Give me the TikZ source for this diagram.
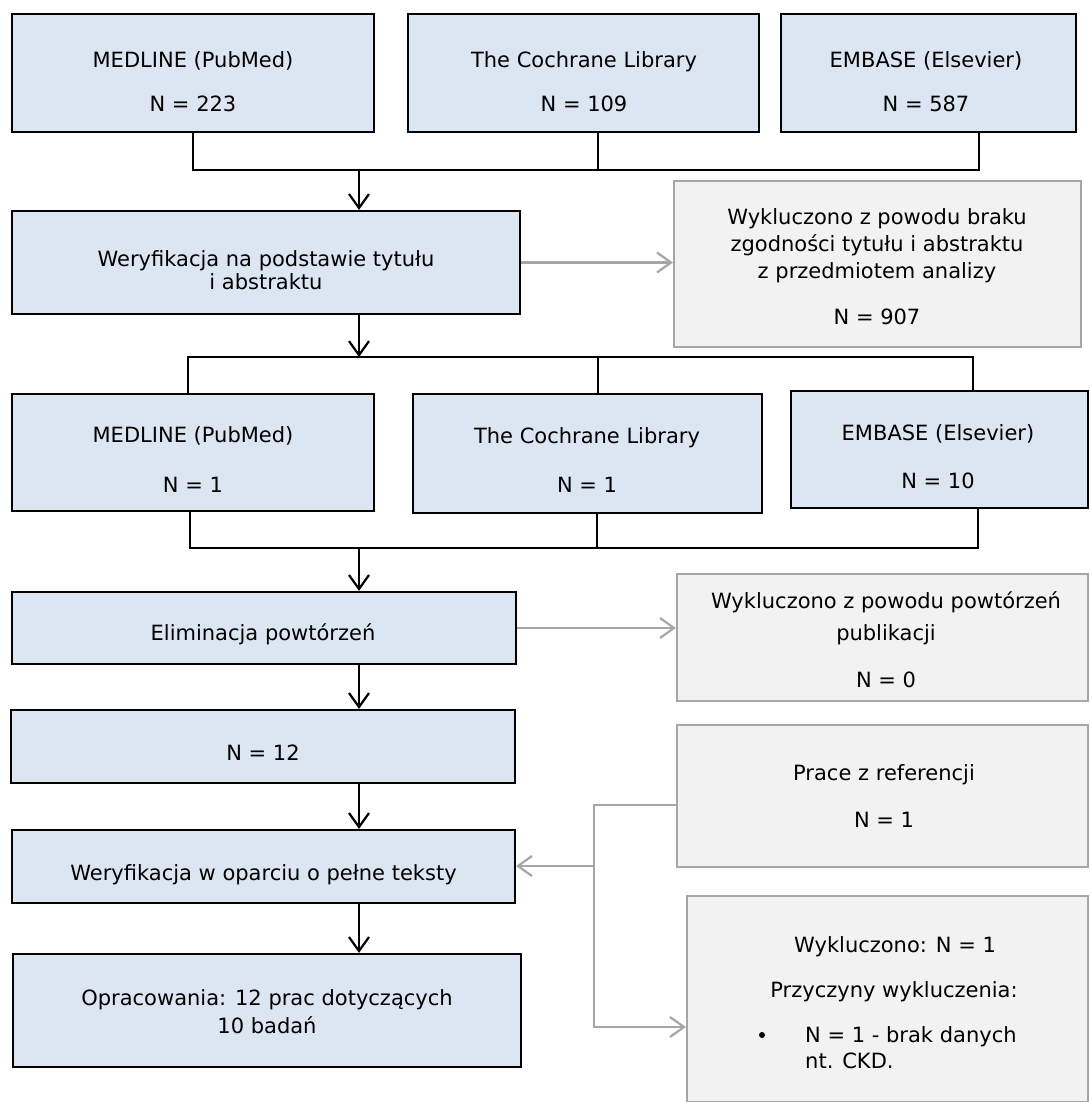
\documentclass[tikz,border=0pt]{standalone}
\usepackage{fontspec}
\setmainfont{DejaVu Sans}
\usetikzlibrary{arrows.meta}
\definecolor{bluefill}{HTML}{DCE6F2}
\definecolor{grayfill}{HTML}{F2F2F2}
\definecolor{grayline}{HTML}{A6A6A6}
\begin{document}
\begin{tikzpicture}[x=1pt,y=-1pt,
  bbox/.style={draw=black, line width=2.2pt, fill=bluefill, inner sep=0pt},
  gbox/.style={draw=grayline, line width=2.2pt, fill=grayfill, inner sep=0pt},
  txt/.style={font=\fontsize{21}{25}\selectfont, inner sep=0pt, anchor=base},
  txtw/.style={txt, anchor=base west},
  conn/.style={line width=2.2pt, draw=black},
  arr/.style={conn, -{Straight Barb[length=14pt,width=20pt,line width=2.2pt]}},
  gconn/.style={line width=2.2pt, draw=grayline},
  garr/.style={gconn, -{Straight Barb[length=14pt,width=20pt,line width=2.2pt]}}]
\useasboundingbox (0,0) rectangle (1089,1102);
\fill[white] (0,0) rectangle (1089,1102);

% row 1
\node[bbox, minimum width=362pt, minimum height=118pt] (a1) at (193,73) {};
\node[bbox, minimum width=351pt, minimum height=118pt] (a2) at (583.5,73) {};
\node[bbox, minimum width=295pt, minimum height=118pt] (a3) at (928.5,73) {};
\node[txt] (a1t1) at (193,68) {MEDLINE (PubMed)};
\node[txt] (a1t2) at (193,112) {N = 223};
\node[txt] (a2t1) at (584,68) {The Cochrane Library};
\node[txt] (a2t2) at (584,112) {N = 109};
\node[txt] (a3t1) at (926,68) {EMBASE (Elsevier)};
\node[txt] (a3t2) at (926,112) {N = 587};

% B and C
\node[bbox, minimum width=508pt, minimum height=103pt] (b) at (266,262.5) {};
\node[txt] (bt1) at (266,266) {Weryfikacja na podstawie tytułu};
\node[txt] (bt2) at (266,289) {i abstraktu};
\node[gbox, minimum width=407pt, minimum height=166pt] (c) at (877.5,264) {};
\node[txt] (ct1) at (877,224) {Wykluczono z powodu braku};
\node[txt] (ct2) at (877,251) {zgodności tytułu i abstraktu};
\node[txt] (ct3) at (877,278) {z przedmiotem analizy};
\node[txt] (ct4) at (877,324) {N = 907};

% row 3
\node[bbox, minimum width=362pt, minimum height=117pt] (m3) at (193,452.5) {};
\node[bbox, minimum width=349pt, minimum height=119pt] (c3) at (587.5,453.5) {};
\node[bbox, minimum width=297pt, minimum height=117pt] (e3) at (939.5,449.5) {};
\node[txt] (m3t1) at (193,442) {MEDLINE (PubMed)};
\node[txt] (m3t2) at (193,492) {N = 1};
\node[txt] (c3t1) at (587,443) {The Cochrane Library};
\node[txt] (c3t2) at (587,492) {N = 1};
\node[txt] (e3t1) at (938,440) {EMBASE (Elsevier)};
\node[txt] (e3t2) at (938,488) {N = 10};

% D, E
\node[bbox, minimum width=504pt, minimum height=72pt] (d) at (264,628) {};
\node[txt] (dt) at (263,640) {Eliminacja powtórzeń};
\node[gbox, minimum width=411pt, minimum height=127pt] (e) at (882.5,637.5) {};
\node[txt] (et1) at (886,608) {Wykluczono z powodu powtórzeń};
\node[txt] (et2) at (886,640) {publikacji};
\node[txt] (et3) at (886,687) {N = 0};

% F, G, Op
\node[bbox, minimum width=504pt, minimum height=73pt] (f) at (263,746.5) {};
\node[txt] (ft) at (263,760) {N = 12};
\node[bbox, minimum width=503pt, minimum height=73pt] (g) at (263.5,866.5) {};
\node[txt] (gt) at (263.5,880) {Weryfikacja w oparciu o pełne teksty};
\node[bbox, minimum width=508pt, minimum height=113pt] (op) at (267,1010.5) {};
\node[txt] (opt1) at (267,1005) {Opracowania: 12 prac dotyczących};
\node[txt] (opt2) at (267,1033) {10 badań};

% H, I
\node[gbox, minimum width=411pt, minimum height=142pt] (h) at (882.5,796) {};
\node[txt] (ht1) at (884,780) {Prace z referencji};
\node[txt] (ht2) at (884,827) {N = 1};
\node[gbox, minimum width=401pt, minimum height=206pt] (i) at (887.5,999) {};
\node[txt] (it1) at (895,952) {Wykluczono: N = 1};
\node[txt] (it2) at (894,997) {Przyczyny wykluczenia:};
\node[circle, fill=black, minimum size=6pt, inner sep=0pt] (bul) at (762,1035) {};
\node[txtw] (it3) at (805,1042) {N = 1 - brak danych};
\node[txtw] (it4) at (805,1068) {nt. CKD.};

% connectors row 1 -> B
\coordinate (j1) at (359,170);
\draw[conn] (a1.south) |- (j1);
\draw[conn] ([xshift=14.5pt]a2.south) |- (j1);
\draw[conn] ([xshift=50.5pt]a3.south) |- (j1);
\draw[arr] (j1) -- (j1 |- b.north);
\draw[garr] (b.east) -- (b.east -| c.west);

% B -> row 3
\coordinate (j2) at (359,357);
\draw[arr] (j1 |- b.south) -- (j2);
\draw[conn] (j2) -| ([xshift=-5pt]m3.north);
\draw[conn] (j2) -| ([xshift=10.5pt]c3.north);
\draw[conn] (j2) -| ([xshift=33.5pt]e3.north);

% row 3 -> D
\coordinate (j3) at (359,548);
\draw[conn] ([xshift=-3pt]m3.south) |- (j3);
\draw[conn] ([xshift=9.5pt]c3.south) |- (j3);
\draw[conn] ([xshift=38.5pt]e3.south) |- (j3);
\draw[arr] (j3) -- (j3 |- d.north);
\draw[garr] (d.east) -- (d.east -| e.west);
\draw[arr] (j3 |- d.south) -- (j3 |- f.north);
\draw[arr] (j3 |- f.south) -- (j3 |- g.north);
\draw[arr] (j3 |- g.south) -- (j3 |- op.north);

% H -> G, I
\coordinate (k) at (594,866);
\draw[gconn] ([yshift=-9pt]h.west) -| (k);
\draw[garr] (k) -- (k -| g.east);
\draw[garr] (k) |- ([yshift=-28pt]i.west);
\end{tikzpicture}
\end{document}
